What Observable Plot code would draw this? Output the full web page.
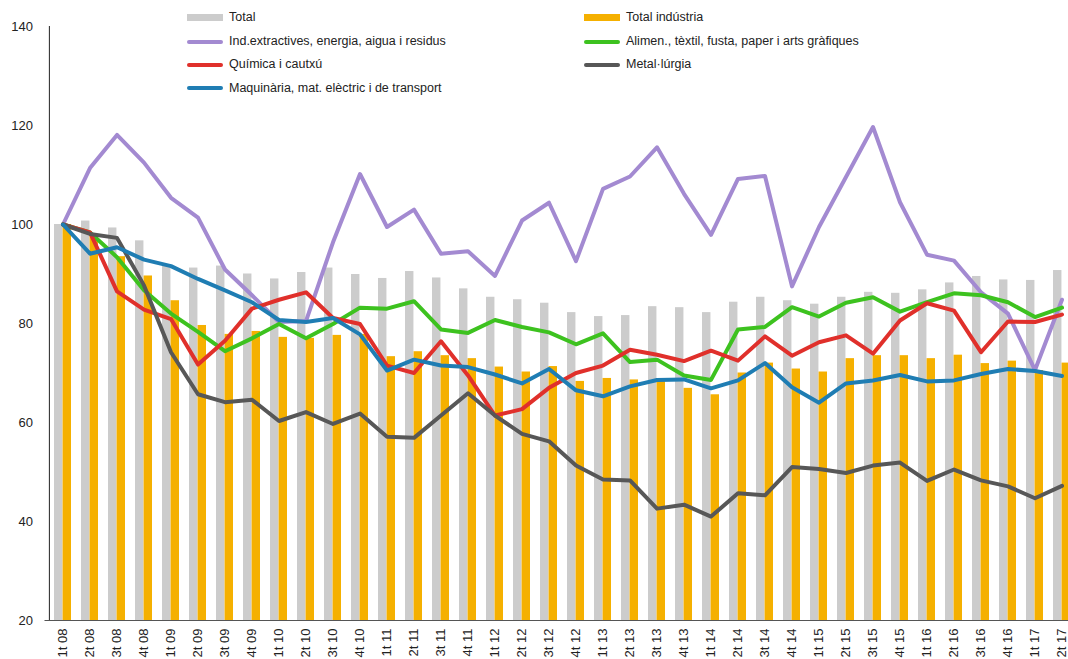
<!DOCTYPE html>
<html>
<head>
<meta charset="utf-8">
<script src="https://cdn.jsdelivr.net/npm/d3@7"></script>
<script src="https://cdn.jsdelivr.net/npm/@observablehq/plot@0.6"></script>
<style>
html, body { margin: 0; padding: 0; background: #fff; overflow: hidden; }
#wrap { position: relative; width: 1068px; height: 659px; font-family: "Liberation Sans", Arial, sans-serif; }
#chart { position: absolute; left: 0; top: 0; }
.leg { position: absolute; font-size: 12.5px; line-height: 14px; color: #222; white-space: nowrap; }
.sw { position: absolute; }
</style>
</head>
<body>
<div id="wrap">
  <div id="chart"></div>
  <div id="legend"></div>
</div>
<script>
const quarters = ["1t 08","2t 08","3t 08","4t 08","1t 09","2t 09","3t 09","4t 09","1t 10","2t 10","3t 10","4t 10",
  "1t 11","2t 11","3t 11","4t 11","1t 12","2t 12","3t 12","4t 12","1t 13","2t 13","3t 13","4t 13",
  "1t 14","2t 14","3t 14","4t 14","1t 15","2t 15","3t 15","4t 15","1t 16","2t 16","3t 16","4t 16","1t 17","2t 17"];

const total = [100,100.7,99.3,96.7, 91.7,91.2,91.6,90.0, 89.0,90.3,91.2,89.9, 89.1,90.5,89.2,87.0,
  85.3,84.8,84.1,82.2, 81.4,81.6,83.4,83.2, 82.2,84.3,85.3,84.6, 83.9,85.3,86.3,86.1, 86.8,88.2,89.5,88.8, 88.7,90.7];
const totalIndustria = [100,98,93.5,89.6, 84.6,79.6,77.8,78.4, 77.2,77.0,77.6,77.8, 73.3,74.3,73.5,72.9,
  71.2,70.2,71.3,68.3, 68.9,68.6,68.7,66.9, 65.6,70.0,72.0,70.8, 70.2,72.9,73.5,73.5, 72.9,73.6,71.9,72.4, 70.5,72.0];

const extractives = [100,111.4,118.1,112.5, 105.4,101.4,90.9,85.7, 80.3,80.5,96.4,110.2, 99.5,103.0,94.1,94.6,
  89.6,100.8,104.4,92.6, 107.2,109.7,115.6,106.2, 97.9,109.2,109.8,87.5, 99.5,109.6,119.7,104.5, 93.9,92.7,86.3,82.0, 70.6,84.8];
const alimen = [100,98.4,93.4,86.7, 82.0,78.3,74.4,77.0, 79.9,77.0,79.9,83.2, 83.0,84.5,78.8,78.1,
  80.7,79.3,78.2,75.8, 78.0,72.2,72.7,69.5, 68.6,78.8,79.3,83.3, 81.4,84.2,85.3,82.4, 84.3,86.1,85.7,84.3, 81.3,83.2];
const quimica = [100,98.4,86.5,82.8, 80.9,71.7,76.5,83.0, 84.8,86.3,81.1,79.9, 71.5,70.0,76.4,69.5,
  61.4,62.7,67.0,70.0, 71.5,74.7,73.7,72.4, 74.5,72.5,77.4,73.5, 76.2,77.6,73.9,80.6, 84.1,82.6,74.2,80.4, 80.3,81.8];
const metal = [100,98.1,97.3,87.7, 74.2,65.7,64.1,64.6, 60.3,62.1,59.7,61.8, 57.1,56.9,61.4,65.9,
  61.4,57.7,56.2,51.3, 48.5,48.3,42.6,43.4, 41.0,45.7,45.3,51.0, 50.6,49.8,51.3,51.9, 48.2,50.5,48.3,47.1, 44.7,47.2];
const maquinaria = [100,94.1,95.4,92.9, 91.6,89.0,86.7,84.3, 80.7,80.3,81.1,77.8, 70.5,72.7,71.5,71.2,
  69.7,67.9,70.8,66.5, 65.3,67.3,68.6,68.7, 66.9,68.5,72.0,67.1, 64.0,67.9,68.5,69.6, 68.3,68.5,69.8,70.8, 70.4,69.4];

const yTicks = [20,40,60,80,100,120,140];

const barNames = ["Total", "Total indústria"];
const barColors = ["#cccccc", "#f5b000"];
const lineNames = ["Ind.extractives, energia, aigua i residus", "Alimen., tèxtil, fusta, paper i arts gràfiques",
  "Química i cautxú", "Metal·lúrgia", "Maquinària, mat. elèctric i de transport"];
const lineColors = ["#a38ad1", "#3dc21f", "#e0302b", "#575757", "#1f7db3"];
const lineValues = [extractives, alimen, quimica, metal, maquinaria];

const W = 1068, H = 659;
const mL = 44.5, mR = -11, mT = 26, mB = 39;
const padIn = 0.37;
const step = (W - mL - mR) / quarters.length;
const half = step * (1 - padIn) / 2;

const rows = quarters.map((q, i) => ({q, total: total[i], ind: totalIndustria[i]}));

const lineMarks = lineValues.map((vals, k) =>
  Plot.line(vals.map((v, i) => ({q: quarters[i], v})), {
    x: "q", y: "v", stroke: lineColors[k], strokeWidth: 4, strokeLinejoin: "round", strokeLinecap: "round"
  })
);

const chart = Plot.plot({
  width: W, height: H,
  marginLeft: mL, marginRight: mR, marginTop: mT, marginBottom: mB,
  style: {fontFamily: '"Liberation Sans", Arial, sans-serif', fontSize: "13px", color: "#222", background: "white"},
  x: {type: "band", domain: quarters, paddingInner: padIn, paddingOuter: padIn / 2, align: 0.5},
  y: {domain: [20, 140]},
  marks: [
    Plot.barY(rows, {x: "q", y1: 20, y2: "total", fill: barColors[0], insetRight: half}),
    Plot.barY(rows, {x: "q", y1: 20, y2: "ind", fill: barColors[1], insetLeft: half}),
    ...lineMarks,
    Plot.ruleY([20], {stroke: "#555", strokeWidth: 1.2}),
    Plot.ruleX([quarters[0]], {y1: 20, y2: 140, dx: -step / 2, stroke: "#222", strokeWidth: 1}),
    Plot.axisY({ticks: yTicks, tickSize: 0, tickPadding: 12, fontSize: 13, label: null}),
    Plot.axisX({tickSize: 0, tickRotate: -90, tickPadding: 8, fontSize: 13, label: null})
  ]
});
document.getElementById("chart").appendChild(chart);

// Legend (HTML overlay)
const legendItems = [
  {name: barNames[0], color: barColors[0], bar: true, col: 0, row: 0},
  {name: barNames[1], color: barColors[1], bar: true, col: 1, row: 0},
  {name: lineNames[0], color: lineColors[0], col: 0, row: 1},
  {name: lineNames[1], color: lineColors[1], col: 1, row: 1},
  {name: lineNames[2], color: lineColors[2], col: 0, row: 2},
  {name: lineNames[3], color: lineColors[3], col: 1, row: 2},
  {name: lineNames[4], color: lineColors[4], col: 0, row: 3}
];
const colX = [187, 584];
const rowY = [17.7, 41.5, 64.7, 88];
const leg = document.getElementById("legend");
for (const it of legendItems) {
  const x = colX[it.col], cy = rowY[it.row];
  const sw = document.createElement("div");
  sw.className = "sw";
  sw.style.left = x + "px";
  sw.style.width = "36px";
  sw.style.background = it.color;
  if (it.bar) { sw.style.height = "7px"; sw.style.top = (cy - 3.5) + "px"; }
  else { sw.style.height = "4px"; sw.style.top = (cy - 2) + "px"; sw.style.borderRadius = "2px"; }
  leg.appendChild(sw);
  const t = document.createElement("div");
  t.className = "leg";
  t.textContent = it.name;
  t.style.left = (x + 42) + "px";
  t.style.top = (cy - 7.5) + "px";
  leg.appendChild(t);
}
</script>
</body>
</html>
